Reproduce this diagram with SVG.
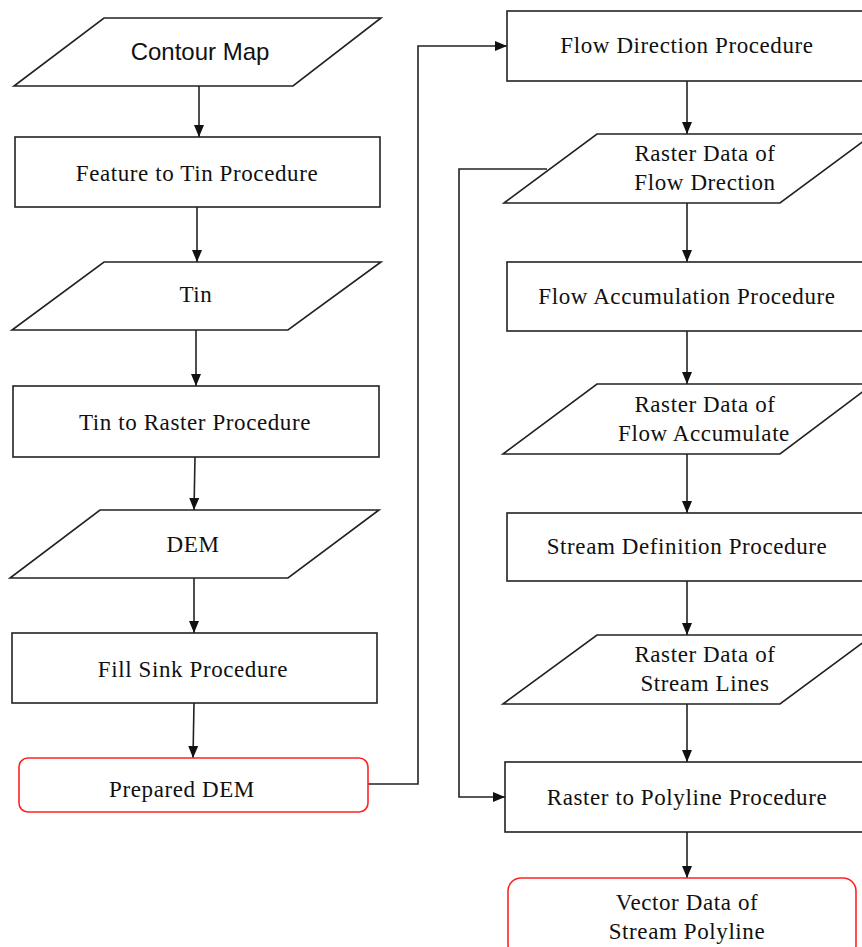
<svg xmlns="http://www.w3.org/2000/svg" width="862" height="947" viewBox="0 0 862 947">
<style>
.s{fill:#fff;stroke:#222;stroke-width:1.6}
.r{fill:#fff;stroke:#f22;stroke-width:1.6}
.t{font-family:'Liberation Serif','Times New Roman',serif;font-size:23px;letter-spacing:0.6px;fill:#111;text-anchor:middle}
.a{font-family:'Liberation Sans',Arial,sans-serif;font-size:24px;fill:#111;text-anchor:middle}
.c{fill:none;stroke:#222;stroke-width:1.6}
</style>
<defs>
<marker id="ah" markerWidth="12" markerHeight="12" viewBox="0 0 12 12" refX="12" refY="6" orient="auto" markerUnits="userSpaceOnUse">
<path d="M0,1 L12,6 L0,11 Z" fill="#111"/>
</marker>
</defs>
<rect width="862" height="947" fill="#fff"/>
<g id="connectors">
<path class="c" d="M199,86 L199,137" marker-end="url(#ah)"/>
<path class="c" d="M197,207 L197,262" marker-end="url(#ah)"/>
<path class="c" d="M196,330 L196,386" marker-end="url(#ah)"/>
<path class="c" d="M195,457 L194,510" marker-end="url(#ah)"/>
<path class="c" d="M194,578 L194,633" marker-end="url(#ah)"/>
<path class="c" d="M194,703 L193,758" marker-end="url(#ah)"/>
<path class="c" d="M368,784 L418,784 L418,46 L507,46" marker-end="url(#ah)"/>
<path class="c" d="M687,81 L687,134" marker-end="url(#ah)"/>
<path class="c" d="M687,203 L687,262" marker-end="url(#ah)"/>
<path class="c" d="M687,331 L687,384" marker-end="url(#ah)"/>
<path class="c" d="M687,454 L687,513" marker-end="url(#ah)"/>
<path class="c" d="M687,581 L687,635" marker-end="url(#ah)"/>
<path class="c" d="M687,704 L687,762" marker-end="url(#ah)"/>
<path class="c" d="M687,832 L687,878" marker-end="url(#ah)"/>
<path class="c" d="M547,169 L459,169 L459,797 L505,797" marker-end="url(#ah)"/>
</g>
<g id="contour-map">
<polygon class="s" points="104,18 381,18 293,86 14,86"/>
<text class="a" x="200" y="60">Contour Map</text>
</g>
<g id="feature-to-tin">
<rect class="s" x="15" y="137" width="365" height="70"/>
<text class="t" x="197" y="181">Feature to Tin Procedure</text>
</g>
<g id="tin">
<polygon class="s" points="104,262 381,262 288,330 12,330"/>
<text class="t" x="196" y="302">Tin</text>
</g>
<g id="tin-to-raster">
<rect class="s" x="13" y="386" width="366" height="71"/>
<text class="t" x="195" y="430">Tin to Raster Procedure</text>
</g>
<g id="dem">
<polygon class="s" points="100,510 379,510 288,578 10,578"/>
<text class="t" x="193" y="552">DEM</text>
</g>
<g id="fill-sink">
<rect class="s" x="12" y="633" width="365" height="70"/>
<text class="t" x="193" y="677">Fill Sink Procedure</text>
</g>
<g id="prepared-dem">
<rect class="r" x="19" y="758" width="349" height="54" rx="9"/>
<text class="t" x="182" y="797">Prepared DEM</text>
</g>
<g id="flow-direction">
<rect class="s" x="507" y="11" width="360" height="70"/>
<text class="t" x="687" y="53">Flow Direction Procedure</text>
</g>
<g id="raster-flow-direction">
<polygon class="s" points="597,134 873,134 780,203 504,203"/>
<text class="t" x="705" y="161">Raster Data of</text>
<text class="t" x="705" y="190">Flow Drection</text>
</g>
<g id="flow-accumulation">
<rect class="s" x="507" y="262" width="360" height="69"/>
<text class="t" x="687" y="304">Flow Accumulation Procedure</text>
</g>
<g id="raster-flow-accumulate">
<polygon class="s" points="597,384 873,384 780,454 503,454"/>
<text class="t" x="705" y="412">Raster Data of</text>
<text class="t" x="704" y="441">Flow Accumulate</text>
</g>
<g id="stream-definition">
<rect class="s" x="507" y="513" width="360" height="68"/>
<text class="t" x="687" y="554">Stream Definition Procedure</text>
</g>
<g id="raster-stream-lines">
<polygon class="s" points="597,635 873,635 780,704 503,704"/>
<text class="t" x="705" y="662">Raster Data of</text>
<text class="t" x="705" y="691">Stream Lines</text>
</g>
<g id="raster-to-polyline">
<rect class="s" x="505" y="762" width="362" height="70"/>
<text class="t" x="687" y="805">Raster to Polyline Procedure</text>
</g>
<g id="vector-stream-polyline">
<rect class="r" x="508" y="878" width="348" height="80" rx="13"/>
<text class="t" x="687" y="910">Vector Data of</text>
<text class="t" x="687" y="939">Stream Polyline</text>
</g>
</svg>
